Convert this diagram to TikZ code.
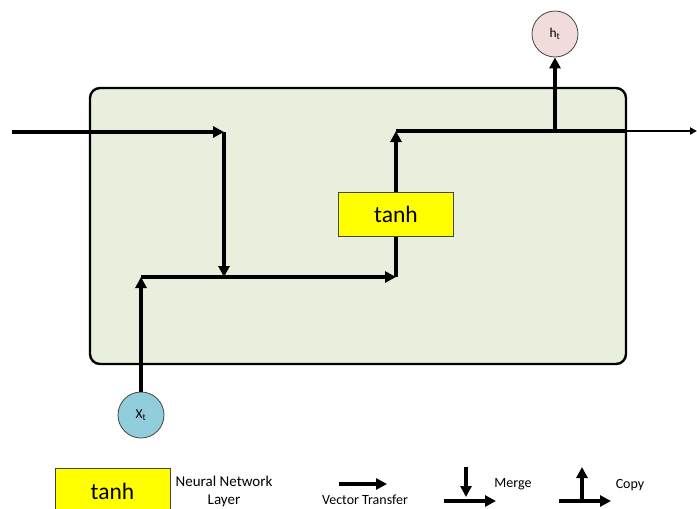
\documentclass[tikz,border=0pt]{standalone}
\usepackage{fontspec}
\setmainfont{Carlito}
\usetikzlibrary{arrows.meta}
\definecolor{cellgreen}{RGB}{233,239,221}
\definecolor{hpink}{RGB}{242,220,219}
\definecolor{xblue}{RGB}{146,205,220}
\definecolor{layeryellow}{RGB}{255,255,0}
\definecolor{edgegray}{RGB}{70,70,70}
\tikzset{
  flow/.style={line width=3.4pt, -{Triangle[length=11pt,width=11pt]}},
  plainflow/.style={line width=3.4pt},
  thinflow/.style={line width=1.8pt, -{Triangle[length=7pt,width=7pt]}},
  cellbox/.style={draw=black, line width=2.4pt, fill=cellgreen, rounded corners=10pt},
  layerbox/.style={draw=edgegray, line width=0.8pt, fill=layeryellow, inner sep=0pt,
    minimum width=115pt, minimum height=44pt, font=\fontsize{23.5}{26}\selectfont},
  state/.style={circle, draw=edgegray, line width=0.8pt, minimum size=46pt, inner sep=0pt,
    font=\fontsize{13.5}{16}\selectfont},
  legendtext/.style={font=\fontsize{14}{17}\selectfont, align=center},
}
\begin{document}
\begin{tikzpicture}[x=1pt,y=-1pt]
\useasboundingbox (0,0) rectangle (697,509);

% LSTM-style cell body
\draw[cellbox] (90,88) rectangle (626,364);

% junction points
\coordinate (in) at (12,132);
\coordinate (j1) at (224,132);
\coordinate (j2) at (224,277);
\coordinate (j3) at (141,277);
\coordinate (j4) at (396,277);
\coordinate (j5) at (396,131);
\coordinate (j6) at (555,131);
\coordinate (j7) at (626,131);
\coordinate (out) at (697,131);

% state circles
\node[state, fill=xblue] (x) at (141,415) {X\textsubscript{t}};
\node[state, fill=hpink] (h) at (555,34) {h\textsubscript{t}};

% main flow
\draw[flow] (in) -- (j1);
\draw[flow] (j1) -- (j2);
\draw[flow] (x.north) -- (j3);
\draw[flow] (j3) -- (j4);
\draw[flow] (j4) -- (j5);
\draw[plainflow] (j5) -- (j7);
\draw[thinflow] (j7) -- (out);
\draw[flow] (j6) -- (h.south);

% network layer
\node[layerbox] (tanh) at (396,214) {tanh};

% legend
\node[layerbox, minimum height=46pt] (ltanh) at (112.5,491) {tanh};
\node[legendtext, font=\fontsize{15}{18}\selectfont] (lnn) at (224,491) {Neural Network\\Layer};

\coordinate (va) at (339,484);
\coordinate (vb) at (387,484);
\draw[flow] (va) -- (vb);
\node[legendtext] (lvt) at (365,500) {Vector Transfer};

\coordinate (ma) at (466,467);
\coordinate (mb) at (466,497);
\coordinate (mc) at (444,501);
\coordinate (md) at (496,501);
\draw[flow] (ma) -- (mb);
\draw[flow] (mc) -- (md);
\node[legendtext] (lm) at (513,484) {Merge};

\coordinate (ca) at (559,501);
\coordinate (cb) at (611,501);
\coordinate (cc) at (582,501);
\coordinate (cd) at (582,467);
\draw[flow] (ca) -- (cb);
\draw[flow] (cc) -- (cd);
\node[legendtext] (lc) at (630,485) {Copy};
\end{tikzpicture}
\end{document}
